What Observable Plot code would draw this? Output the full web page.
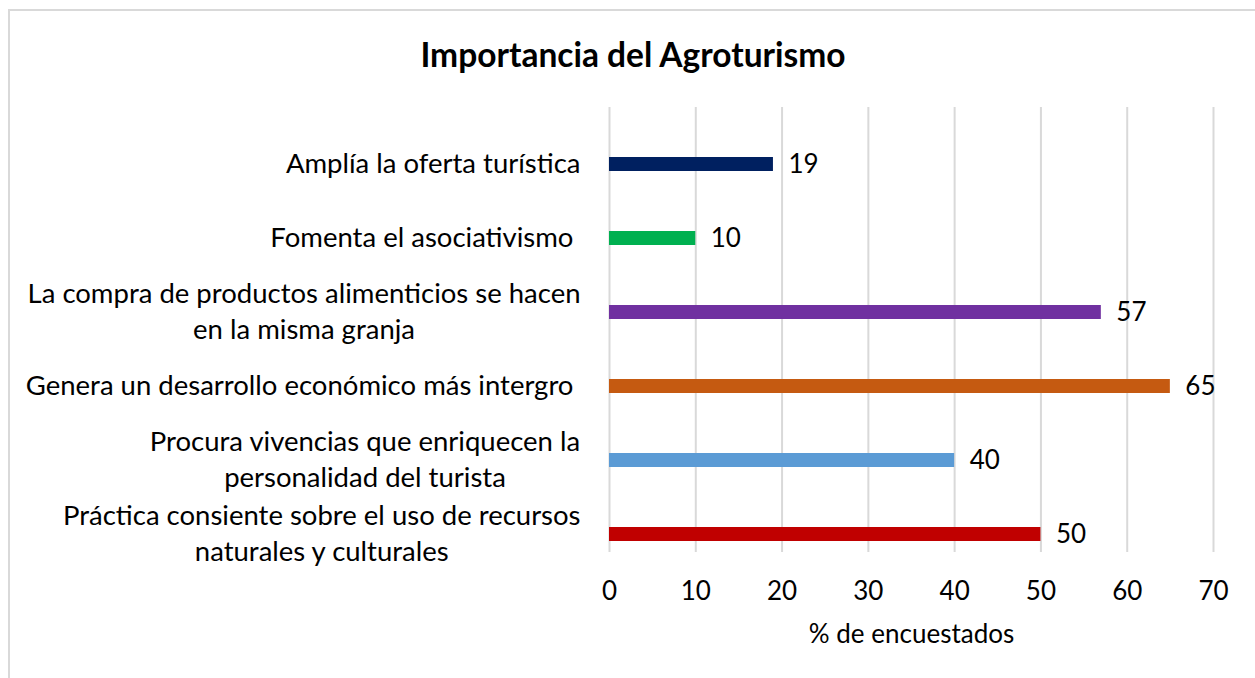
<!DOCTYPE html>
<html><head><meta charset="utf-8">
<script src="https://cdn.jsdelivr.net/npm/d3@7"></script>
<script src="https://cdn.jsdelivr.net/npm/@observablehq/plot@0.6"></script>
<style>
body{margin:0;background:#fff;}
#wrap{position:relative;width:1255px;height:678px;overflow:hidden;font-family:Lato,"Open Sans",sans-serif;}
#border{position:absolute;left:8px;top:9px;width:1300px;height:700px;border:2px solid #d9d9d9;}
#title{position:absolute;left:0;width:1266px;top:34px;text-align:center;font-weight:bold;font-size:33.5px;color:#000;line-height:1.2;}
#chart{position:absolute;left:0;top:0;}
#chart text{white-space:pre;}
</style></head><body>
<div id="wrap"><div id="border"></div><div id="title"></div><div id="chart"></div></div>
<script>
const title = "Importancia del Agroturismo";
const xLabel = "% de encuestados";
const categories = [
  "Amplía la oferta turística",
  "Fomenta el asociativismo ",
  "La compra de productos alimenticios se hacen\nen la misma granja",
  "Genera un desarrollo económico más intergro ",
  "Procura vivencias que enriquecen la\npersonalidad del turista",
  "Práctica consiente sobre el uso de recursos\nnaturales y culturales"
];
const values = [19, 10, 57, 65, 40, 50];
const colors = ["#002060", "#00b050", "#7030a0", "#c55a11", "#5b9bd5", "#c00000"];
const xTicks = [0, 10, 20, 30, 40, 50, 60, 70];

document.getElementById("title").textContent = title;

const FONT = 'Lato, "Open Sans", sans-serif';
const FS = 27.5;   // category labels
const NS = 26;     // numbers
const ctx = document.createElement("canvas").getContext("2d");
ctx.font = `${FS}px Lato`;

const data = categories.map((c, i) => ({cat: c, value: values[i], color: colors[i]}));

const labelMarks = categories.map(c => {
  const w = d3.max(c.split("\n"), l => ctx.measureText(l).width);
  return Plot.text([c], {y: d => d, text: d => d, frameAnchor: "left", textAnchor: "middle",
    dx: -(29 + w / 2), dy: -3, lineHeight: 1.31, fontSize: FS, fill: "#000"});
});

const chart = Plot.plot({
  width: 1255, height: 678,
  marginTop: 107, marginBottom: 126, marginLeft: 609, marginRight: 42,
  style: {fontFamily: FONT, fontSize: NS + "px", color: "#000", background: "transparent"},
  x: {domain: [0, 70]},
  y: {domain: categories, range: [126, 571], padding: 0, axis: null},
  color: {type: "identity"},
  marks: [
    Plot.ruleX(xTicks, {stroke: "#d9d9d9", strokeWidth: 2}),
    Plot.barX(data, {x: "value", y: "cat", fill: "color", insetTop: 30, insetBottom: 30}),
    Plot.text(data, {x: "value", y: "cat", text: d => String(d.value), textAnchor: "start", dx: 15, fontSize: NS, fill: "#000"}),
    Plot.axisX({ticks: xTicks, tickSize: 0, tickPadding: 29, label: xLabel, labelAnchor: "center", labelArrow: "none", labelOffset: 90, fontSize: NS}),
    ...labelMarks
  ]
});
document.getElementById("chart").appendChild(chart);
</script>
</body></html>
